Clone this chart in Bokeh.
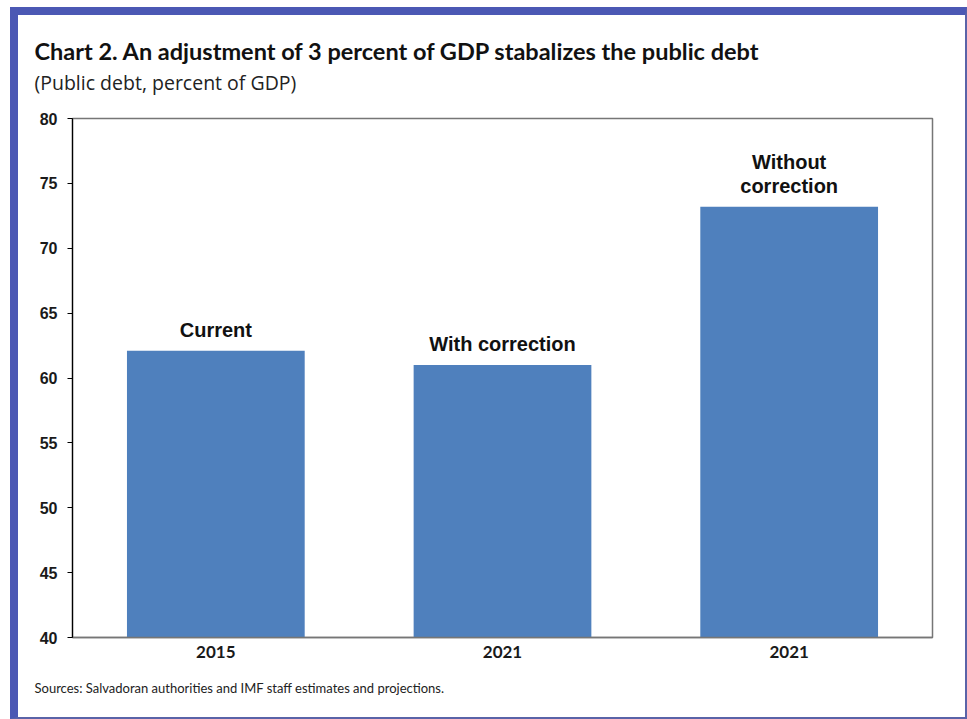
from bokeh.plotting import figure
from bokeh.models import ColumnDataSource, FixedTicker, Title, Range1d
from bokeh.core.properties import value
from bokeh.embed import file_html
from bokeh.resources import INLINE

# ---- data ----
tick_labels = ["2015", "2021", "2021"]
scenarios = ["Current", "With correction", "Without\ncorrection"]
debt = [62.1, 61.0, 73.2]
y_ticks = [40, 45, 50, 55, 60, 65, 70, 75, 80]

title_text = "Chart 2. An adjustment of 3 percent of GDP stabalizes the public debt"
subtitle_text = "(Public debt, percent of GDP)"
source_text = "Sources: Salvadoran authorities and IMF staff estimates and projections."

W, H = 957, 712
BAR = "#4f80bd"
FRAME = "#4b58b4"

xs = [i + 0.5 for i in range(len(debt))]
src = ColumnDataSource(dict(x=xs, debt=debt, label=scenarios))

p = figure(width=W, height=H, output_backend="svg", toolbar_location=None,
           x_range=Range1d(0, len(debt)), y_range=Range1d(40, 80),
           min_border_left=54, min_border_right=43, min_border_top=103,
           min_border_bottom=90)
p.title.visible = False
p.styles = {"margin-left": "10px", "margin-top": "7px",
            "border-top": "8px solid " + FRAME,
            "border-left": "8px solid " + FRAME,
            "border-right": "2px solid #5a63a8",
            "border-bottom": "2px solid #5a63a8"}
p.background_fill_color = "white"
p.border_fill_color = "white"
p.outline_line_color = "#767676"
p.outline_line_width = 1.5
p.xgrid.visible = False
p.ygrid.visible = False

p.vbar(x="x", top="debt", bottom=40, width=0.62, source=src,
       fill_color=BAR, line_color=None)

p.text(x="x", y="debt", text="label", source=src, text_align="center",
       text_baseline="bottom", y_offset=-10,
       text_font=value("Liberation Sans"), text_font_style="bold",
       text_font_size="20px", text_color="#111111", text_line_height=1.1)

# y axis
ya = p.yaxis[0]
ya.ticker = FixedTicker(ticks=y_ticks)
ya.axis_line_color = "black"
ya.axis_line_width = 1.2
ya.major_tick_in = 0
ya.major_tick_out = 5
ya.major_tick_line_color = "black"
ya.minor_tick_line_color = None
ya.major_label_standoff = 10
ya.major_label_text_font = "Liberation Sans"
ya.major_label_text_font_style = "bold"
ya.major_label_text_font_size = "16px"
ya.major_label_text_color = "#1a1a1a"

# x axis
xa = p.xaxis[0]
xa.ticker = FixedTicker(ticks=xs)
xa.major_label_overrides = {x: t for x, t in zip(xs, tick_labels)}
xa.axis_line_color = "#767676"
xa.axis_line_width = 1.5
xa.major_tick_line_color = None
xa.major_tick_in = 0
xa.major_tick_out = 0
xa.minor_tick_line_color = None
xa.major_label_standoff = 8
xa.major_label_text_font = "Lato"
xa.major_label_text_font_style = "bold"
xa.major_label_text_font_size = "17px"
xa.major_label_text_color = "#1a1a1a"

# titles: the first one added above sits closest to the plot
p.add_layout(Title(text=" ", standoff=20, text_font_size="1px"), "above")
p.add_layout(Title(text=subtitle_text, align="left", offset=-38, standoff=0,
                   text_font="Open Sans", text_font_style="normal",
                   text_font_size="19.5px", text_color="#222222"), "above")
p.add_layout(Title(text=title_text, align="left", offset=-38, standoff=3,
                   text_font="Lato", text_font_style="bold",
                   text_font_size="23.5px", text_color="#111111"), "above")
p.add_layout(Title(text=source_text, align="left", offset=-38, standoff=34,
                   text_font="Lato", text_font_style="normal",
                   text_font_size="13px", text_color="#222222"), "below")

open("out.html", "w").write(file_html(p, INLINE))
